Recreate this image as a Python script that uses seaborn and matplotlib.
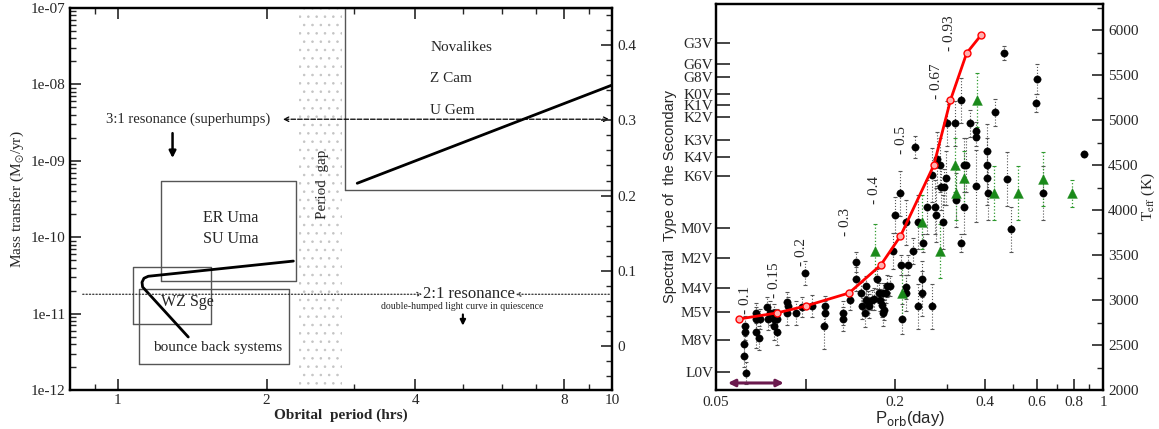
import matplotlib
matplotlib.use('Agg')
import matplotlib.pyplot as plt
import matplotlib.ticker as mticker
import seaborn as sns

# ---- left panel: evolutionary sketch ----
track_p = [2.265, 1.152, 1.129, 1.119, 1.122, 1.388]
track_mdot = [4.87e-11, 3.08e-11, 2.9e-11, 2.57e-11, 2.23e-11, 4.94e-12]
nl_p = [3.05, 10.0]
nl_mdot = [5.08e-10, 9.8e-9]

# boxes (x0, x1, y0, y1) in hours / Msun per yr
boxes = {
    'novalike': (2.88, 10.0, 4.1e-10, 1e-7),
    'eruma': (1.22, 2.29, 2.64e-11, 5.4e-10),
    'wzsge': (1.073, 1.543, 7.2e-12, 4.04e-11),
    'bounce': (1.103, 2.22, 2.22e-12, 2.07e-11),
}
gap = (2.32, 2.84)
res31_mdot = 3.5e-9
res21_mdot = 1.79e-11

mdot_ticks = [1e-12, 1e-11, 1e-10, 1e-9, 1e-8, 1e-7]
mdot_labels = ['1e-12', '1e-11', '1e-10', '1e-09', '1e-08', '1e-07']
per_ticks = [1, 2, 4, 8, 10]

# ---- right panel: spectral type vs period ----
spt_names = ['G3V', 'G6V', 'G8V', 'K0V', 'K1V', 'K2V', 'K3V', 'K4V', 'K6V',
             'M0V', 'M2V', 'M4V', 'M5V', 'M8V', 'L0V']
spt_teff = [5856, 5622, 5478, 5289, 5167, 5033, 4778, 4589, 4378,
            3800, 3467, 3133, 2867, 2556, 2200]

black_p = [0.0626, 0.0626, 0.0621, 0.0621, 0.0631, 0.068, 0.068, 0.068, 0.0697, 0.0702,
           0.0741, 0.0747, 0.0759, 0.0783, 0.0783, 0.080, 0.080, 0.0783, 0.0865, 0.087,
           0.0865, 0.0927, 0.097, 0.0994, 0.105, 0.116, 0.116, 0.115, 0.134, 0.134,
           0.141, 0.148, 0.148, 0.154, 0.155, 0.158, 0.160, 0.160, 0.162, 0.164,
           0.167, 0.170, 0.174, 0.176, 0.178, 0.181, 0.182, 0.186, 0.188, 0.192,
           0.183, 0.182, 0.209, 0.211, 0.217, 0.218, 0.221, 0.230, 0.238, 0.246,
           0.246, 0.267, 0.196, 0.200, 0.2085, 0.218, 0.238, 0.233, 0.249, 0.256,
           0.272, 0.274, 0.267, 0.276, 0.284, 0.286, 0.291, 0.289, 0.296, 0.298,
           0.319, 0.321, 0.332, 0.334, 0.342, 0.347, 0.342, 0.356, 0.373, 0.373,
           0.373, 0.406, 0.406, 0.406, 0.410, 0.435, 0.463, 0.474, 0.49, 0.594,
           0.601, 0.626, 0.865]
black_teff = [2711, 2644, 2511, 2378, 2189, 2856, 2789, 2644, 2578, 2789,
              2922, 2789, 2856, 2789, 2711, 2789, 2644, 2856, 2978, 2933,
              2856, 2856, 2922, 3300, 2933, 2933, 2856, 2711, 2856, 2789,
              3000, 3422, 3233, 3078, 2933, 2856, 3156, 3000, 2978, 2933,
              3000, 3011, 3233, 3078, 3000, 2944, 3078, 3078, 3156, 3156,
              2889, 2856, 3389, 2789, 3144, 3078, 3389, 3544, 2933, 3233,
              3078, 2933, 3544, 3944, 4189, 3867, 3867, 4700, 3633, 4033,
              4033, 3944, 4389, 4567, 4500, 4256, 4256, 3867, 4356, 4967,
              4967, 4111, 3633, 5222, 4500, 4500, 4033, 4967, 4878, 4811,
              4267, 4656, 4500, 4356, 4189, 5089, 5744, 4344, 3789, 5189,
              5456, 4189, 4622]
black_err = [110, 90, 110, 120, 120, 110, 130, 180, 130, 110,
             110, 120, 130, 110, 150, 110, 140, 100, 110, 100,
             130, 130, 110, 130, 120, 110, 130, 250, 130, 130,
             110, 110, 130, 120, 140, 160, 110, 130, 120, 130,
             110, 120, 110, 110, 120, 130, 110, 110, 120, 110,
             110, 150, 110, 170, 130, 200, 110, 140, 250, 200,
             250, 250, 200, 200, 250, 250, 300, 120, 100, 300,
             300, 300, 300, 300, 300, 250, 200, 300, 300, 250,
             250, 300, 100, 250, 300, 300, 300, 150, 100, 100,
             400, 300, 300, 300, 300, 150, 80, 300, 250, 100,
             170, 300, 30]

green_p = [0.171, 0.211, 0.246, 0.284, 0.319, 0.321, 0.342, 0.376, 0.43, 0.516, 0.626, 0.785]
green_teff = [3544, 3078, 3867, 3544, 4500, 4189, 4356, 5222, 4189, 4189, 4344, 4189]
green_err = [300, 300, 300, 300, 300, 300, 300, 300, 300, 300, 300, 150]

model_p = [0.0597, 0.080, 0.100, 0.140, 0.179, 0.2085, 0.270, 0.307, 0.348, 0.389]
model_teff = [2789, 2856, 2933, 3078, 3389, 3711, 4500, 5222, 5744, 5944]

mass_labels = ['- 0.1', '- 0.15', '- 0.2', '- 0.3', '- 0.4', '- 0.5', '- 0.67', '- 0.93']
mass_label_p = [0.0626, 0.0788, 0.0971, 0.1366, 0.1704, 0.2101, 0.2761, 0.3044]
mass_label_teff = [3000, 3222, 3533, 3867, 4222, 4778, 5433, 5967]

bounce_range = (0.0548, 0.0845)
bounce_teff = 2078

sns.set_theme(style='ticks')
plt.rcParams['font.family'] = ['Liberation Serif', 'DejaVu Serif']
plt.rcParams['mathtext.fontset'] = 'stix'
plt.rcParams['xtick.direction'] = 'in'
plt.rcParams['ytick.direction'] = 'in'
plt.rcParams['hatch.linewidth'] = 0.6

fig = plt.figure(figsize=(11.59, 4.29), dpi=100)
ax1 = fig.add_axes([0.0604, 0.0909, 0.4677, 0.8905])
ax3 = fig.add_axes([0.6178, 0.0909, 0.3339, 0.8998])

FS = 11
box_col = '#555555'

# ---------- left panel ----------
ax1.set_xscale('log')
ax1.set_yscale('log')
ax1.set_xlim(0.8, 10)
ax1.set_ylim(1e-12, 1e-7)

ax1.axvspan(gap[0], gap[1], facecolor='none', edgecolor='#c4c4c4', hatch='..', lw=0)

for x0, x1, y0, y1 in boxes.values():
    ax1.plot([x0, x1, x1, x0, x0], [y0, y0, y1, y1, y0], color=box_col, lw=1.0, clip_on=True)

sns.lineplot(x=track_p, y=track_mdot, ax=ax1, color='black', lw=2.0, sort=False, estimator=None)
sns.lineplot(x=nl_p, y=nl_mdot, ax=ax1, color='black', lw=2.0, sort=False, estimator=None)

# 3:1 resonance
ax1.annotate('', xy=(10, res31_mdot), xytext=(2.13, res31_mdot),
             arrowprops=dict(arrowstyle='<->', ls='--', lw=0.9, color='black', mutation_scale=8))
ax1.text(2.03, res31_mdot, '3:1 resonance (superhumps)', ha='right', va='center', fontsize=10.5)
ax1.annotate('', xy=(1.29, 1.0e-9), xytext=(1.29, 2.5e-9),
             arrowprops=dict(arrowstyle='-|>', lw=1.8, color='black', mutation_scale=10))

# 2:1 resonance
ax1.annotate('', xy=(4.18, res21_mdot), xytext=(0.838, res21_mdot),
             arrowprops=dict(arrowstyle='->', ls=':', lw=0.9, color='#333333', mutation_scale=7))
ax1.annotate('', xy=(6.3, res21_mdot), xytext=(10, res21_mdot),
             arrowprops=dict(arrowstyle='->', ls=':', lw=0.9, color='#333333', mutation_scale=7))
ax1.text(5.14, res21_mdot, '2:1 resonance', ha='center', va='center', fontsize=12)
ax1.text(4.97, 1.24e-11, 'double-humped light curve in quiescence', ha='center', va='center', fontsize=7)
ax1.annotate('', xy=(4.99, 6.4e-12), xytext=(4.99, 1.06e-11),
             arrowprops=dict(arrowstyle='-|>', lw=1.5, color='black', mutation_scale=8))

ax1.text(4.29, 3.08e-8, 'Novalikes', ha='left', va='center', fontsize=FS)
ax1.text(4.29, 1.21e-8, 'Z Cam', ha='left', va='center', fontsize=FS)
ax1.text(4.29, 4.6e-9, 'U Gem', ha='left', va='center', fontsize=FS)
ax1.text(1.49, 1.77e-10, 'ER Uma', ha='left', va='center', fontsize=FS + 0.5)
ax1.text(1.49, 9.4e-11, 'SU Uma', ha='left', va='center', fontsize=FS + 0.5)
ax1.text(1.22, 1.4e-11, 'WZ Sge', ha='left', va='center', fontsize=FS + 0.5)
ax1.text(1.18, 3.6e-12, 'bounce back systems', ha='left', va='center', fontsize=FS)
ax1.text(2.59, 4.9e-10, 'Period  gap', rotation=90, ha='center', va='center', fontsize=FS)

ax1.set_xticks(per_ticks)
ax1.set_xticklabels([str(t) for t in per_ticks], fontsize=FS)
ax1.xaxis.set_minor_locator(mticker.FixedLocator([0.9, 3, 5, 6, 7, 9]))
ax1.xaxis.set_minor_formatter(mticker.NullFormatter())
ax1.set_yticks(mdot_ticks)
ax1.set_yticklabels(mdot_labels, fontsize=FS)
ax1.yaxis.set_minor_locator(mticker.LogLocator(base=10, subs=range(2, 10), numticks=20))
ax1.yaxis.set_minor_formatter(mticker.NullFormatter())
ax1.tick_params(which='major', length=8, width=1.2, top=True, right=False, pad=3)
ax1.tick_params(which='minor', length=4, width=1.0, top=True, right=False)
ax1.set_xlabel('Obrital  period (hrs)', fontsize=FS, fontweight='bold', labelpad=1)
ax1.set_ylabel(r'Mass transfer (M$_{\odot}$/yr)', fontsize=FS, labelpad=4)
for sp in ax1.spines.values():
    sp.set_linewidth(1.6)
    sp.set_color('black')

ax2 = ax1.twinx()
ax2.set_ylim(-0.058, 0.449)
ax2.yaxis.set_major_locator(mticker.MultipleLocator(0.1))
ax2.yaxis.set_minor_locator(mticker.MultipleLocator(0.02))
ax2.yaxis.set_major_formatter(mticker.FuncFormatter(lambda v, p: '0' if abs(v) < 1e-9 else f'{v:.1f}'))
ax2.tick_params(which='major', length=8, width=1.2, labelsize=FS)
ax2.tick_params(which='minor', length=4, width=1.0)
for sp in ax2.spines.values():
    sp.set_linewidth(1.6)
    sp.set_color('black')

# ---------- right panel ----------
ax3.set_xscale('log')
ax3.set_xlim(0.05, 1)
ax3.set_ylim(2000, 6290)

eb = ax3.errorbar(black_p, black_teff, yerr=black_err, fmt='none', ecolor='#555555',
                  elinewidth=0.8, capsize=1.5, capthick=0.8, zorder=2)
eb[2][0].set_linestyle(':')
eg = ax3.errorbar(green_p, green_teff, yerr=green_err, fmt='none', ecolor='#2e9a2e',
                  elinewidth=0.9, capsize=1.5, capthick=0.8, zorder=2)
eg[2][0].set_linestyle(':')

sns.scatterplot(x=black_p, y=black_teff, ax=ax3, color='black', s=28, edgecolor='black',
                linewidth=0.3, zorder=3)
sns.scatterplot(x=green_p, y=green_teff, ax=ax3, color='#1a8a1a', marker='^', s=50,
                edgecolor='#1a8a1a', linewidth=0.3, zorder=3)
sns.lineplot(x=model_p, y=model_teff, ax=ax3, color='red', lw=2.0, marker='o', markersize=5,
             markerfacecolor='#ffb0b0', markeredgecolor='red', markeredgewidth=1.0,
             sort=False, estimator=None, zorder=4)

for lab, xp, yt in zip(mass_labels, mass_label_p, mass_label_teff):
    ax3.text(xp, yt, lab, rotation=90, ha='center', va='center', fontsize=FS)

ax3.annotate('', xy=(bounce_range[0], bounce_teff), xytext=(bounce_range[1], bounce_teff),
             arrowprops=dict(arrowstyle='<|-|>', color='#6b1a4e', lw=2.2, mutation_scale=10,
                             shrinkA=0, shrinkB=0))

ax3.set_xticks([0.05, 0.1, 0.2, 0.4, 0.6, 0.8, 1])
ax3.set_xticklabels(['0.05', '', '0.2', '0.4', '0.6', '0.8', '1'], fontsize=FS)
ax3.xaxis.set_minor_locator(mticker.FixedLocator([0.3, 0.5, 0.7, 0.9]))
ax3.xaxis.set_minor_formatter(mticker.NullFormatter())
ax3.set_yticks(spt_teff)
ax3.set_yticklabels(spt_names, fontsize=FS)
ax3.yaxis.set_minor_locator(mticker.NullLocator())
ax3.tick_params(axis='y', which='major', length=10, width=1.2, pad=2)
ax3.tick_params(axis='x', which='major', length=8, width=1.2, pad=4)
ax3.tick_params(axis='x', which='minor', length=4, width=1.0)
xl = ax3.set_xlabel(r'P$_{\rm orb}$(day)', fontsize=FS + 1, family=['Liberation Sans'], labelpad=0)
xl.set_math_fontfamily('dejavusans')
ax3.set_ylabel('Spectral  Type of  the Secondary', fontsize=10.5,
               family=['Liberation Sans'], labelpad=3)
for sp in ax3.spines.values():
    sp.set_linewidth(1.6)
    sp.set_color('black')

ax4 = ax3.twinx()
ax4.set_ylim(2000, 6290)
ax4.yaxis.set_major_locator(mticker.MultipleLocator(500))
ax4.yaxis.set_minor_locator(mticker.MultipleLocator(250))
ax4.tick_params(which='major', length=8, width=1.2, labelsize=FS)
ax4.tick_params(which='minor', length=4, width=1.0)
ax4.set_ylabel(r'T$_{\rm eff}$ (K)', fontsize=FS, labelpad=1)
for sp in ax4.spines.values():
    sp.set_linewidth(1.6)
    sp.set_color('black')

fig.savefig('out.png', dpi=100)
